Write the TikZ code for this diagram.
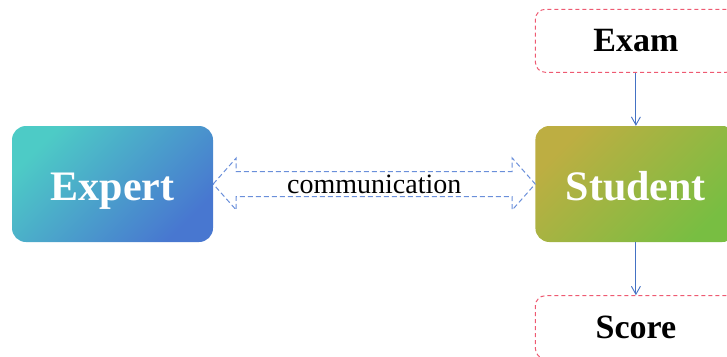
\documentclass[tikz,border=0pt]{standalone}
\usepackage{fontspec}
\setmainfont{Liberation Serif}
\usepackage{xcolor}
\usetikzlibrary{positioning,arrows.meta,calc}

\definecolor{tealA}{HTML}{4DCBC6}
\definecolor{blueA}{HTML}{4877D0}
\definecolor{oliveA}{HTML}{BDAE42}
\definecolor{greenA}{HTML}{78BE42}
\definecolor{dashRed}{HTML}{EE5A72}
\definecolor{lineBlue}{HTML}{4472C4}
\definecolor{commBlue}{HTML}{6A8FDA}

\begin{document}
\begin{tikzpicture}[
      x=1pt, y=1pt,
      agent/.style={rectangle, rounded corners=14pt, inner sep=0pt,
                    minimum width=201pt, minimum height=116pt,
                    text height=32pt, text depth=0pt,
                    text=white, font=\fontsize{42}{46}\selectfont\bfseries},
      task/.style={draw=dashRed, dashed, dash pattern=on 4pt off 3pt,
                   line width=1pt, rounded corners=10pt, inner sep=0pt,
                   minimum width=201pt, minimum height=63pt,
                   font=\fontsize{34}{38}\selectfont\bfseries},
      arr/.style={draw=lineBlue, line width=0.9pt,
                  -{Straight Barb[length=8pt,width=9pt]}},
      comm/.style={draw=commBlue, line width=1pt, dashed,
                   dash pattern=on 5pt off 3pt},
    ]
    \useasboundingbox (0,0) rectangle (727,-356);
    \clip (0,0) rectangle (727,-356);
    \node[agent, top color=tealA, bottom color=blueA, shading angle=45]
      (expert) at (112.5,-184) {Expert};
    \node[agent, top color=oliveA, bottom color=greenA, shading angle=45,
          right=322pt of expert] (student) {Student};
    \node[task, above=53pt of student] (exam) {Exam};
    \node[task, below=53pt of student] (score) {Score};
    \draw[arr] (exam) -- (student);
    \draw[arr] (student) -- (score);
    % double arrow between expert and student
    \draw[comm] (expert.east) -- ++(23,26) -- ++(0,-13.5)
      -- ($(student.west)+(-23,12.5)$) -- ++(0,13.5) -- (student.west)
      -- ++(-23,-26) -- ++(0,13.5) -- ($(expert.east)+(23,-12.5)$)
      -- ++(0,-13.5) -- cycle;
    \node[font=\fontsize{28}{32}\selectfont] (label)
      at ($(expert.east)!0.5!(student.west)$) {communication};
  \end{tikzpicture}
\end{document}
